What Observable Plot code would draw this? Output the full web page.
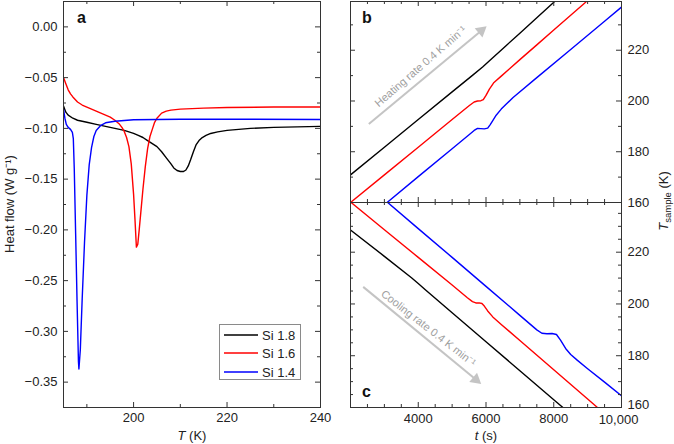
<!DOCTYPE html>
<html><head><meta charset="utf-8">
<script src="https://cdn.jsdelivr.net/npm/d3@7"></script>
<script src="https://cdn.jsdelivr.net/npm/@observablehq/plot@0.6"></script>
<style>
body{margin:0;background:#fff;}
#wrap{position:relative;width:674px;height:444px;font-family:"Liberation Sans",Arial,sans-serif;color:#222;overflow:hidden;background:#fff;}
.pl{position:absolute;}
.txt{position:absolute;font-size:13px;line-height:13px;white-space:nowrap;}
.lett{position:absolute;font-size:16px;line-height:16px;font-weight:bold;color:#111;}
.rot{position:absolute;font-size:13px;line-height:13px;white-space:nowrap;transform:translate(-50%,-50%) rotate(-90deg);}
#legend{position:absolute;left:219px;top:324px;width:80px;height:54px;border:1px solid #8a8a8a;background:#fff;}
#legend svg{position:absolute;left:4px;}
#legend .lt{position:absolute;left:42px;font-size:13px;line-height:13px;}
</style></head>
<body><div id="wrap"></div>
<script>
// ---------- Panel a: DSC heat flow ----------
const seriesNames = ["Si 1.8", "Si 1.6", "Si 1.4"];
const seriesColors = ["#000000", "#ff0000", "#0000ff"];

const si18T = [185,185.5,186,187,188,190,192,194,196,198,200,201,202,203,204,205,206,207,208,208.6,209.3,210,210.7,211.2,211.7,212.2,212.8,213.4,214,214.7,215.5,216.5,218,220,225,230,235,240];
const si18H = [-0.078,-0.084,-0.087,-0.090,-0.092,-0.094,-0.096,-0.098,-0.100,-0.102,-0.105,-0.107,-0.109,-0.112,-0.115,-0.118,-0.123,-0.129,-0.135,-0.139,-0.1415,-0.1425,-0.1425,-0.141,-0.137,-0.131,-0.123,-0.116,-0.112,-0.109,-0.107,-0.105,-0.1035,-0.102,-0.100,-0.099,-0.0985,-0.098];

const si16T = [185,185.5,186,186.5,187,188,189,190,192,194,195,196,197,197.5,198,198.5,199,199.5,200,200.3,200.6,200.9,201.2,201.6,202,202.5,203,203.5,204,204.5,205,206,207,208,210,215,220,230,240];
const si16H = [-0.050,-0.056,-0.062,-0.066,-0.069,-0.074,-0.077,-0.079,-0.083,-0.087,-0.089,-0.092,-0.096,-0.099,-0.103,-0.109,-0.118,-0.135,-0.165,-0.190,-0.217,-0.214,-0.200,-0.180,-0.160,-0.138,-0.120,-0.108,-0.101,-0.094,-0.090,-0.085,-0.083,-0.082,-0.081,-0.080,-0.0795,-0.079,-0.079];

const si14T = [185,185.3,185.6,186,186.5,186.9,187.1,187.3,187.6,187.9,188.2,188.3,188.6,189,189.5,190,190.5,191,191.5,192,193,194,196,200,210,220,240];
const si14H = [-0.081,-0.090,-0.096,-0.099,-0.101,-0.104,-0.110,-0.139,-0.204,-0.270,-0.330,-0.337,-0.318,-0.268,-0.212,-0.166,-0.136,-0.119,-0.108,-0.102,-0.097,-0.0945,-0.093,-0.0915,-0.091,-0.091,-0.0912];

// ---------- Panel b: heating, sample temperature vs time ----------
const heat18t = [2000,3000,4000,5000,5600,5900,6200,6600,7000,7500,8010];
const heat18T = [170.9,181.8,192.7,203.6,210.1,213.4,217.0,221.9,226.7,232.8,239.0];
const heat16t = [2000,3000,4000,5000,5500,5650,5750,5850,5920,6000,6100,6236,6450,7000,7500,8000,8500,8950];
const heat16T = [160,170.9,181.8,192.7,198.1,199.6,200.0,200.1,200.5,202.2,204.7,207.3,209.8,216.3,222.1,228.0,233.8,239.0];
const heat14t = [3080,4000,5000,5500,5650,5750,5850,5950,6050,6120,6200,6300,6450,6600,6800,7500,8500,9500,10000];
const heat14T = [160,170.2,181.2,186.7,188.4,189.2,189.1,189.0,189.3,190.6,192.3,194.4,196.8,198.8,201.4,209.2,220.3,231.4,237.0];

// ---------- Panel c: cooling ----------
const cool18t = [2000,3000,3800,4000,4200,5000,6000,7000,8000,8270];
const cool18T = [228.6,218.4,210.1,207.9,205.6,196.6,185.4,174.2,163.0,160.0];
const cool16t = [2000,3000,4000,5000,5450,5600,5700,5800,5880,5950,6050,6200,6450,7000,8000,9000,9290];
const cool16T = [239.4,228.7,218.0,207.3,202.4,200.9,200.4,200.4,200.2,199.2,197.3,195.0,192.1,185.9,174.6,163.3,160.0];
const cool14t = [3080,4000,5000,6000,7000,7500,7650,7800,7950,8080,8200,8350,8500,8700,9000,9500,10000];
const cool14T = [239.4,229.1,218.0,206.8,195.6,190.0,188.7,188.5,188.6,188.2,186.0,182.8,180.5,178.2,175.0,169.8,164.5];

// ---------- ticks ----------
const aXLabels = [200, 220, 240];
const aXMinor = [190, 210, 230];
const aYLabels = [0, -0.05, -0.10, -0.15, -0.20, -0.25, -0.30, -0.35];
const aYMinor = [-0.025, -0.075, -0.125, -0.175, -0.225, -0.275, -0.325];
const tLabels = [4000, 6000, 8000];
const tLastLabel = [10000];
const tMajor = [4000, 6000, 8000];
const tMinor = [2500,3000,3500,4500,5000,5500,6500,7000,7500,8500,9000,9500];
const TLabelsUpper = [180, 200, 220];
const TLabelBottom = [160];
const TMajor = [180, 200, 220];
const bTMinor = [170, 190, 210, 230];
const cTMinor = [165,170,175,185,190,195,205,210,215,225,230,235];

// ---------- annotations ----------
const heatNote = [{t: 4068, T: 213.6, label: "Heating rate 0.4 K min\u207B\u00B9"}];
const heatArrow = [{t1: 2541, T1: 190.9, t2: 5860, T2: 227.7}];
const coolNote = [{t: 4300, T: 190.6, label: "Cooling rate 0.4 K min\u207B\u00B9"}];
const coolArrow = [{t1: 2375, T1: 206.6, t2: 5700, T2: 170.8}];

// ---------- build ----------
const font = '"Liberation Sans", Arial, sans-serif';
const style = {fontFamily: font, fontSize: "13px", color: "#222", background: "transparent", overflow: "visible"};
const frameColor = "#333";

function rows(ts, vs, name) { return ts.map((t, i) => ({series: name, x: t, y: vs[i]})); }
// inward ticks on all four sides of a frame of inner size W x H
function frameTicks(xMaj, xMin, yMaj, yMin, W, H) {
  const out = [];
  [[xMaj, 5], [xMin, 3]].forEach(([v, L]) => {
    out.push(Plot.ruleX(v, {stroke: frameColor, insetBottom: H - L}));
    out.push(Plot.ruleX(v, {stroke: frameColor, insetTop: H - L}));
  });
  [[yMaj, 5], [yMin, 3]].forEach(([v, L]) => {
    out.push(Plot.ruleY(v, {stroke: frameColor, insetRight: W - L}));
    out.push(Plot.ruleY(v, {stroke: frameColor, insetLeft: W - L}));
  });
  return out;
}

const dataA = [
  ...rows(si18T, si18H, "Si 1.8"),
  ...rows(si16T, si16H, "Si 1.6"),
  ...rows(si14T, si14H, "Si 1.4")
];
const dataB = [
  ...rows(heat18t, heat18T, "Si 1.8"),
  ...rows(heat16t, heat16T, "Si 1.6"),
  ...rows(heat14t, heat14T, "Si 1.4")
];
const dataC = [
  ...rows(cool18t, cool18T, "Si 1.8"),
  ...rows(cool16t, cool16T, "Si 1.6"),
  ...rows(cool14t, cool14T, "Si 1.4")
];
const colorScale = {domain: seriesNames, range: seriesColors};

const plotA = Plot.plot({
  width: 340, height: 444, marginLeft: 63, marginRight: 20, marginTop: 1, marginBottom: 37,
  style, color: colorScale,
  x: {domain: [185, 240]}, y: {domain: [-0.375, 0.025]},
  marks: [
    Plot.line(dataA, {x: "x", y: "y", z: "series", stroke: "series", strokeWidth: 1.4, clip: true}),
    ...frameTicks(aXLabels, aXMinor, aYLabels, aYMinor, 257, 406),
    Plot.frame({stroke: frameColor}),
    Plot.axisX({anchor: "bottom", ticks: aXLabels, tickSize: 0, tickPadding: 5, label: null, fontSize: 13}),
    Plot.axisY({anchor: "left", ticks: aYLabels, tickSize: 0, tickPadding: 6, tickFormat: d3.format(".2f"), label: null, fontSize: 13})
  ]
});

function panelTime(data, opts) {
  const H = opts.height - opts.mt - opts.mb;
  return Plot.plot({
    width: 334, height: opts.height, marginLeft: 10, marginRight: 53, marginTop: opts.mt, marginBottom: opts.mb,
    style, color: colorScale,
    x: {domain: [2000, 10000], axis: opts.xLabels ? undefined : null}, y: {domain: [160, 239.2]},
    marks: [
      Plot.line(data, {x: "x", y: "y", z: "series", stroke: "series", strokeWidth: 1.4, clip: true}),
      Plot.link(opts.arrow, {x1: "t1", y1: "T1", x2: "t2", y2: "T2", stroke: "#c4c4c4", strokeWidth: 2}),
      Plot.dot(opts.arrow, {x: "t2", y: "T2", symbol: "triangle", r: 4.5, fill: "#c4c4c4", stroke: null, rotate: opts.headRot}),
      Plot.text(opts.note, {x: "t", y: "T", text: "label", rotate: opts.textRot, fill: "#a0a0a0", fontSize: 11}),
      ...frameTicks(tMajor, tMinor, TMajor, opts.yMinor, 271, H),
      Plot.frame({stroke: frameColor}),
      ...(opts.xLabels ? [
        Plot.axisX({anchor: "bottom", ticks: tLabels, tickSize: 0, tickPadding: 6, label: null, fontSize: 13, tickFormat: d => String(d)}),
        Plot.axisX({anchor: "bottom", ticks: tLastLabel, tickSize: 0, tickPadding: 7, dx: -3, label: null, fontSize: 13, tickFormat: d3.format(",")})
      ] : []),
      Plot.axisY({anchor: "right", ticks: TLabelsUpper, tickSize: 0, tickPadding: 6, label: null, fontSize: 13}),
      Plot.axisY({anchor: "right", ticks: TLabelBottom, tickSize: 0, tickPadding: 6, dy: opts.bottomDy, label: null, fontSize: 13})
    ]
  });
}

const plotB = panelTime(dataB, {height: 215, mt: 1, mb: 13, arrow: heatArrow, note: heatNote, headRot: 50, textRot: -41, yMinor: bTMinor, xLabels: false, bottomDy: 0});
const plotC = panelTime(dataC, {height: 254, mt: 12, mb: 37, arrow: coolArrow, note: coolNote, headRot: 130, textRot: 38, yMinor: cTMinor, xLabels: true, bottomDy: -2.5});

const wrap = document.getElementById("wrap");
function place(node, left, top) {
  const d = document.createElement("div");
  d.className = "pl"; d.style.left = left + "px"; d.style.top = top + "px";
  d.appendChild(node); wrap.appendChild(d);
}
place(plotA, 0, 0);
place(plotB, 340, 0);
place(plotC, 340, 190);

function html(s) { wrap.insertAdjacentHTML("beforeend", s); }
html('<div class="rot" style="left:9px;top:204px;">Heat flow (W g\u207B\u00B9)</div>');
html('<div class="rot" style="left:664px;top:201px;"><i>T</i><span style="font-size:9.5px;position:relative;top:3px;">sample</span> (K)</div>');
html('<div class="txt" style="left:192px;top:428.5px;transform:translateX(-50%);"><i>T</i> (K)</div>');
html('<div class="txt" style="left:486px;top:428.5px;transform:translateX(-50%);"><i>t</i> (s)</div>');
html('<div class="lett" style="left:77px;top:9.5px;">a</div>');
html('<div class="lett" style="left:362px;top:9.5px;">b</div>');
html('<div class="lett" style="left:362px;top:383.5px;">c</div>');

let leg = '<div id="legend">';
seriesNames.forEach((n, i) => {
  const cy = Math.round(9.5 + i * 18.6);
  leg += `<svg width="34" height="4" style="top:${cy - 2}px;"><line x1="0" x2="34" y1="2" y2="2" stroke="${seriesColors[i]}" stroke-width="1.6"/></svg>`;
  leg += `<div class="lt" style="top:${cy - 6.5}px;">${n}</div>`;
});
leg += '</div>';
html(leg);
</script>
</body></html>
